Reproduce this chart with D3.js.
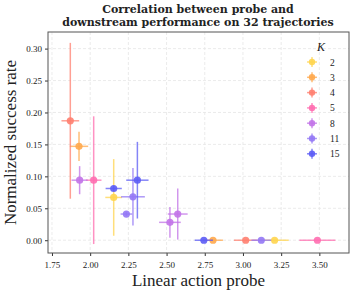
<!DOCTYPE html>
<html>
<head>
<meta charset="utf-8">
<script src="https://cdn.jsdelivr.net/npm/d3@7"></script>
<style>
  body { margin: 0; background: #fff; }
  text { font-family: "Liberation Serif", "DejaVu Serif", serif; }
</style>
</head>
<body>
<div id="chart"></div>
<script>
// K values and colours
const kValues = [2, 3, 4, 5, 8, 11, 15];
const kColors = ['#ffd54f', '#ffa94d', '#ff8070', '#ff6eb0', '#c274e8', '#9478f5', '#5c5cf5'];

// per-K points: [probe, success, probeErr, successErr]
const pointsK2 = [[2.154, 0.067, 0.055, 0.060], [3.207, 0.000, 0.092, 0]];
const pointsK3 = [[1.927, 0.147, 0.060, 0.023], [2.804, 0.000, 0.065, 0]];
const pointsK4 = [[1.870, 0.187, 0.058, 0.122], [3.018, 0.000, 0.077, 0]];
const pointsK5 = [[2.023, 0.094, 0.051, 0.100], [3.487, 0.000, 0.118, 0]];
const pointsK8 = [[1.931, 0.094, 0.053, 0.022], [2.573, 0.041, 0.065, 0.040], [2.522, 0.028, 0.071, 0.024]];
const pointsK11 = [[2.280, 0.068, 0.078, 0.045], [2.237, 0.041, 0.038, 0.003], [3.120, 0.000, 0.065, 0]];
const pointsK15 = [[2.154, 0.081, 0.053, 0.004], [2.309, 0.094, 0.073, 0.060], [2.744, 0.000, 0.060, 0]];
const allPoints = [pointsK2, pointsK3, pointsK4, pointsK5, pointsK8, pointsK11, pointsK15];

const xTicks = [1.75, 2.00, 2.25, 2.50, 2.75, 3.00, 3.25, 3.50];
const yTicks = [0.00, 0.05, 0.10, 0.15, 0.20, 0.25, 0.30];

const W = 356, H = 294;
const margin = { top: 32, right: 7, bottom: 41, left: 48 };
const width = W - margin.left - margin.right;
const height = H - margin.top - margin.bottom;

const svg = d3.select('#chart').append('svg')
    .attr('width', W)
    .attr('height', H);

const g = svg.append('g')
    .attr('transform', `translate(${margin.left},${margin.top})`);

const xScale = d3.scaleLinear().domain([1.724, 3.694]).range([0, width]);
const yScale = d3.scaleLinear().domain([-0.020, 0.326]).range([height, 0]);

// grid
g.selectAll('.gx').data(xTicks).enter().append('line')
    .attr('x1', d => xScale(d)).attr('x2', d => xScale(d))
    .attr('y1', 0).attr('y2', height)
    .attr('stroke', '#e6e6e6').attr('stroke-dasharray', '3,2').attr('stroke-width', 0.8);
g.selectAll('.gy').data(yTicks).enter().append('line')
    .attr('y1', d => yScale(d)).attr('y2', d => yScale(d))
    .attr('x1', 0).attr('x2', width)
    .attr('stroke', '#e6e6e6').attr('stroke-dasharray', '3,2').attr('stroke-width', 0.8);

// axes
const xAxis = g.append('g')
    .attr('transform', `translate(0,${height})`)
    .call(d3.axisBottom(xScale).tickValues(xTicks).tickFormat(d3.format('.2f')).tickSize(3).tickSizeOuter(0));
const yAxis = g.append('g')
    .call(d3.axisLeft(yScale).tickValues(yTicks).tickFormat(d3.format('.2f')).tickSize(3).tickSizeOuter(0));
[xAxis, yAxis].forEach(a => {
    a.select('.domain').remove();
    a.selectAll('line').attr('stroke', '#333');
    a.selectAll('text').style('font-size', '9px').attr('fill', '#222')
        .style('font-family', '"Liberation Serif", serif');
});
xAxis.selectAll('text').attr('dy', '1.0em');

// frame
g.append('rect')
    .attr('width', width).attr('height', height)
    .attr('fill', 'none').attr('stroke', '#555').attr('stroke-width', 1);

// points with error bars
allPoints.forEach((pts, i) => {
    const c = kColors[i];
    const grp = g.append('g');
    pts.forEach(p => {
        const [x, y, ex, ey] = p;
        grp.append('line')
            .attr('x1', xScale(x - ex)).attr('x2', xScale(x + ex))
            .attr('y1', yScale(y)).attr('y2', yScale(y))
            .attr('stroke', c).attr('stroke-width', 1.5).attr('opacity', 0.75);
        if (ey > 0) {
            grp.append('line')
                .attr('x1', xScale(x)).attr('x2', xScale(x))
                .attr('y1', yScale(y - ey)).attr('y2', yScale(y + ey))
                .attr('stroke', c).attr('stroke-width', 1.5).attr('opacity', 0.75);
        }
        grp.append('circle')
            .attr('cx', xScale(x)).attr('cy', yScale(y))
            .attr('r', 3.6).attr('fill', c).attr('opacity', 0.9);
    });
});

// axis labels
svg.append('text')
    .attr('x', margin.left + width / 2).attr('y', 286)
    .attr('text-anchor', 'middle')
    .style('font-size', '17px').attr('fill', '#222')
    .text('Linear action probe');
svg.append('text')
    .attr('transform', `translate(16,${margin.top + height / 2}) rotate(-90)`)
    .attr('text-anchor', 'middle')
    .style('font-size', '17px').attr('fill', '#222')
    .text('Normalized success rate');

// title
const titleFont = '"DejaVu Serif", serif';
svg.append('text')
    .attr('x', 198).attr('y', 13)
    .attr('text-anchor', 'middle')
    .style('font-family', titleFont)
    .style('font-size', '11px').style('font-weight', 'bold').attr('fill', '#222')
    .text('Correlation between probe and');
svg.append('text')
    .attr('x', 198).attr('y', 26)
    .attr('text-anchor', 'middle')
    .style('font-family', titleFont)
    .style('font-size', '11px').style('font-weight', 'bold').attr('fill', '#222')
    .text('downstream performance on 32 trajectories');

// legend
const legend = svg.append('g').attr('transform', 'translate(312,62)');
legend.append('text')
    .attr('x', 9).attr('y', -11)
    .attr('text-anchor', 'middle')
    .style('font-size', '12px').style('font-style', 'italic').attr('fill', '#222')
    .text('K');
kValues.forEach((k, i) => {
    const row = legend.append('g').attr('transform', `translate(0,${i * 15.3})`);
    row.append('line').attr('x1', -5).attr('x2', 5).attr('y1', 0).attr('y2', 0)
        .attr('stroke', kColors[i]).attr('stroke-width', 1.5).attr('opacity', 0.75);
    row.append('line').attr('x1', 0).attr('x2', 0).attr('y1', -5).attr('y2', 5)
        .attr('stroke', kColors[i]).attr('stroke-width', 1.5).attr('opacity', 0.75);
    row.append('circle').attr('r', 3.2).attr('fill', kColors[i]).attr('opacity', 0.9);
    row.append('text')
        .attr('x', 18).attr('y', 3.5)
        .style('font-size', '9.5px').attr('fill', '#222')
        .text(k);
});
</script>
</body>
</html>
